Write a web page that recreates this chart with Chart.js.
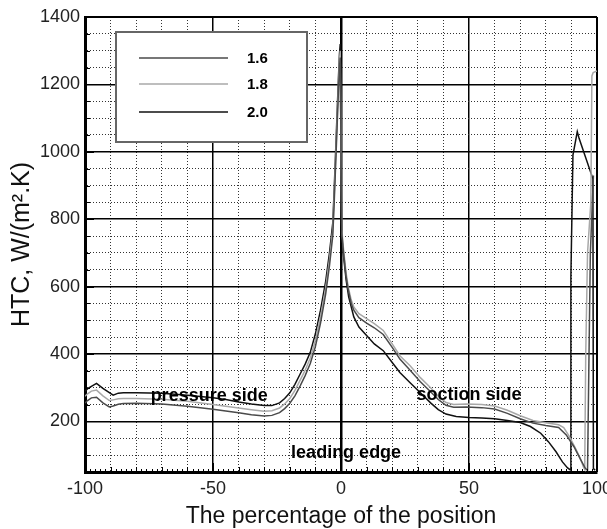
<!DOCTYPE html>
<html><head><meta charset="utf-8">
<script src="https://cdn.jsdelivr.net/npm/chart.js@4.4.0/dist/chart.umd.min.js"></script>
<style>html,body{margin:0;padding:0;background:#fff;}</style>
</head><body>
<canvas id="c" width="607" height="529" style="width:607px;height:529px;display:block"></canvas>
<script>
// ---- data ----
const seriesNames = ['1.6', '1.8', '2.0'];

const s16 = [[-100,255],[-99,262],[-97.5,270],[-95.5,272],[-93,255],[-90.5,243],[-89,246],[-87,251],[-85,253],[-80,254],[-70,252],[-60,245],[-50,236],[-45,231],[-40,226],[-35,220],[-30,216],[-27,218],[-24,226],[-22,238],[-20,254],[-18,276],[-16,305],[-14,336],[-12,372],[-10,422],[-8,492],[-6,578],[-4.5,662],[-3.2,752],[-2.6,860],[-2,980],[-1.5,1080],[-1,1180],[-0.6,1250],[-0.3,1280],
  [0.3,760],[1,700],[2,630],[2.8,592],[4,550],[5,530],[7,508],[10,492],[13,478],[16.5,458],[20,420],[23,385],[27,352],[31,318],[35,288],[38,265],[41,248],[44,242],[49,243],[55,241],[60,237],[65,224],[70,208],[75,195],[80,188],[85,182],[88,160],[91,125],[93.5,88],[95.5,60],[96.3,55],[96.8,350],[97.4,700],[98.6,930]];

const s18 = [[-100,275],[-99,282],[-97.5,290],[-95.5,293],[-93,276],[-90.5,262],[-89,264],[-87,267],[-85,268],[-80,268],[-70,266],[-60,260],[-50,250],[-45,245],[-40,240],[-35,235],[-30,230],[-27,232],[-24,240],[-22,252],[-20,268],[-18,292],[-16,322],[-14,352],[-12,388],[-10,440],[-8,510],[-6,595],[-4.5,680],[-3.2,770],[-2.6,880],[-2,1000],[-1.5,1100],[-1,1200],[-0.6,1270],[-0.3,1300],
  [0.3,770],[1,710],[2,640],[2.8,600],[4,560],[5,540],[7,520],[10,505],[13,490],[16.5,470],[20,430],[23,395],[27,365],[31,330],[35,300],[38,275],[41,256],[44,250],[49,252],[55,250],[60,246],[65,233],[70,217],[75,203],[80,196],[85,190],[87,182],[89,158],[91.5,122],[93.5,90],[94.7,65],[95.2,58],[95.6,400],[96.3,700],[97.6,850],[98,1225],[98.5,1235],[100,1240]];

const s20 = [[-100,290],[-98.5,300],[-95.5,313],[-93,298],[-89,278],[-87,284],[-85,285],[-80,285],[-70,284],[-60,278],[-50,270],[-45,265],[-40,258],[-35,252],[-30,247],[-27,247],[-24,255],[-22,268],[-20,285],[-18,310],[-16,340],[-14,370],[-12,405],[-10,460],[-8,530],[-6,615],[-4.5,700],[-3.2,790],[-2.6,900],[-2,1020],[-1.5,1120],[-1,1220],[-0.6,1290],[-0.3,1320],
  [0.2,760],[0.5,730],[1,690],[2,620],[3,570],[5,510],[7,480],[10,455],[13,430],[16.5,410],[20,375],[23,345],[27,315],[31,285],[35,255],[38,235],[41,222],[45,215],[50,212],[55,210],[60,208],[65,203],[70,197],[74,185],[78,165],[81,140],[84,110],[86.5,80],[88.5,62],[89.6,56],[89.8,630],[90.6,990],[92.3,1060],[93,1040],[98.4,920],[98.6,60],[99.3,55]];

const xTickLabels = [-100, -50, 0, 50, 100];
const yTickLabels = [200, 400, 600, 800, 1000, 1200, 1400];
const noteTexts = ['pressure side', 'soction side', 'leading edge'];
const notePos = [[-51.5, 275], [50, 277], [2, 106]];
// --------------------------------------

const FONT = "'Liberation Sans', Arial, sans-serif";
const colors = ['#4a4a4a', '#a8a8a8', '#111111'];
const allSeries = [s16, s18, s20];

const innerTicks = {
  id: 'innerTicks',
  afterDatasetsDraw(chart) {
    const ctx = chart.ctx, ca = chart.chartArea, xs = chart.scales.x, ys = chart.scales.y;
    ctx.save();
    ctx.strokeStyle = '#000';
    ctx.lineWidth = 1;
    ys.ticks.forEach(t => {
      const y = Math.round(ys.getPixelForValue(t.value)) + 0.5;
      const len = yTickLabels.includes(t.value) ? 9 : 5;
      ctx.beginPath(); ctx.moveTo(ca.left, y); ctx.lineTo(ca.left + len, y); ctx.stroke();
    });
    for (let v = xs.min; v <= xs.max; v += 2) {
      const x = Math.round(xs.getPixelForValue(v)) + 0.5;
      const len = (v % 50 === 0) ? 9 : (v % 10 === 0 ? 5 : 3);
      ctx.beginPath(); ctx.moveTo(x, ca.bottom); ctx.lineTo(x, ca.bottom - len); ctx.stroke();
    }
    ctx.restore();
  }
};

const legendBox = {
  id: 'legendBox',
  afterDatasetsDraw(chart) {
    const ctx = chart.ctx, ca = chart.chartArea;
    const L = ca.left + 31, T = ca.top + 15, W = 191, H = 110;
    ctx.save();
    ctx.fillStyle = '#fff';
    ctx.fillRect(L, T, W, H);
    ctx.strokeStyle = '#666';
    ctx.lineWidth = 2;
    ctx.strokeRect(L, T, W, H);
    const rows = [26, 52, 80];
    chart.data.datasets.forEach((ds, i) => {
      const y = T + rows[i];
      ctx.strokeStyle = ds.borderColor;
      ctx.lineWidth = 1.6;
      ctx.beginPath();
      ctx.moveTo(L + 23, y);
      ctx.lineTo(L + 112, y);
      ctx.stroke();
      ctx.fillStyle = '#000';
      ctx.font = 'bold 15px ' + FONT;
      ctx.textBaseline = 'middle';
      ctx.textAlign = 'left';
      ctx.fillText(ds.label, L + 131, y + 1);
    });
    ctx.restore();
  }
};

const notes = {
  id: 'notes',
  afterDatasetsDraw(chart) {
    const ctx = chart.ctx, xs = chart.scales.x, ys = chart.scales.y;
    ctx.save();
    ctx.font = 'bold 18px ' + FONT;
    ctx.fillStyle = '#000';
    ctx.textAlign = 'center';
    ctx.textBaseline = 'middle';
    noteTexts.forEach((t, i) => {
      ctx.fillText(t, xs.getPixelForValue(notePos[i][0]), ys.getPixelForValue(notePos[i][1]));
    });
    ctx.restore();
  }
};

const isMajorY = v => yTickLabels.includes(v);
const isMajorX = v => xTickLabels.includes(v);

new Chart(document.getElementById('c'), {
  type: 'scatter',
  data: {
    datasets: allSeries.map((s, i) => ({
      label: seriesNames[i],
      data: s.map(p => ({x: p[0], y: p[1]})),
      showLine: true,
      borderColor: colors[i],
      backgroundColor: colors[i],
      borderWidth: 1.5,
      pointRadius: 0,
      tension: 0
    }))
  },
  options: {
    responsive: false,
    animation: false,
    devicePixelRatio: 1,
    layout: {padding: {top: 17, right: 10, left: 0, bottom: 0}},
    plugins: {legend: {display: false}, tooltip: {enabled: false}},
    scales: {
      x: {
        type: 'linear', min: -100, max: 100,
        afterFit(s) { s.height = 57; s.paddingLeft = 0; s.paddingRight = 0; },
        ticks: {stepSize: 10, autoSkip: false, maxRotation: 0, padding: 6,
          color: '#222', font: {family: FONT, size: 18},
          callback: v => isMajorX(v) ? String(v) : ''},
        grid: {drawTicks: false,
          color: c => (c.tick && isMajorX(c.tick.value)) ? '#000' : '#333',
          lineWidth: c => { const v = c.tick ? c.tick.value : null;
            if (v === 0) return 2.5; if (v === 100) return 2; if (isMajorX(v)) return 1.5; return 1; }},
        border: {display: true, color: '#000', width: 3,
          dash: c => (c.tick && !isMajorX(c.tick.value)) ? [1, 2] : []},
        title: {display: true, text: 'The percentage of the position', color: '#111',
          font: {family: FONT, size: 23, lineHeight: 1.1}, padding: {top: 0, bottom: 0}}
      },
      y: {
        type: 'linear', min: 50, max: 1400,
        afterFit(s) { s.width = 85; s.paddingTop = 0; s.paddingBottom = 0; },
        ticks: {stepSize: 50, autoSkip: false, padding: 5,
          color: '#222', font: {family: FONT, size: 18},
          callback: v => isMajorY(v) ? String(v) : ''},
        grid: {drawTicks: false,
          color: c => (c.tick && isMajorY(c.tick.value)) ? '#000' : '#333',
          lineWidth: c => { const v = c.tick ? c.tick.value : null;
            if (v === 1400) return 2; if (isMajorY(v)) return 1.5; return 1; }},
        border: {display: true, color: '#000', width: 3,
          dash: c => (c.tick && !isMajorY(c.tick.value)) ? [1, 2] : []},
        title: {display: true, text: 'HTC, W/(m².K)', color: '#111',
          font: {family: FONT, size: 25, lineHeight: 1.2}, padding: {top: 7, bottom: 0}}
      }
    }
  },
  plugins: [innerTicks, legendBox, notes]
});
</script>
</body></html>
